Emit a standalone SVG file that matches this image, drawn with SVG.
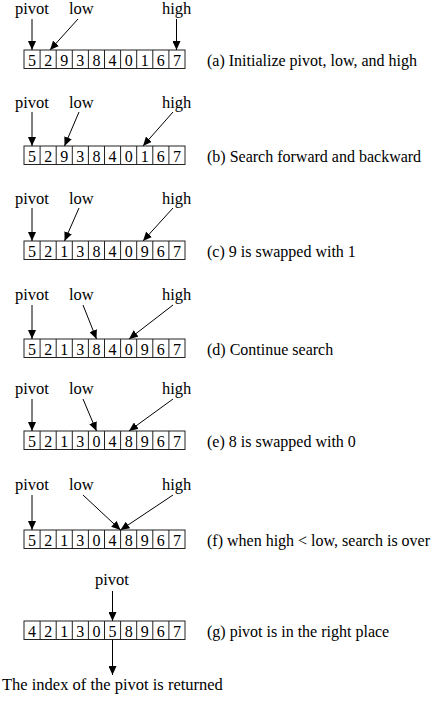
<svg xmlns="http://www.w3.org/2000/svg" width="435" height="701" viewBox="0 0 435 701">
<defs>
<marker id="ah" markerUnits="userSpaceOnUse" markerWidth="10" markerHeight="8" refX="9" refY="4" orient="auto">
<path d="M0,0 L9,4 L0,8 Z" fill="#000"/>
</marker>
<style>
text{font-family:"Liberation Serif","Times New Roman",serif;font-size:16px;fill:#000}
.l{font-size:16.5px}
.d{text-anchor:middle}
.box{fill:#fff;stroke:#222;stroke-width:1}
.c{stroke:#000;stroke-width:1;fill:none;marker-end:url(#ah)}
</style>
<g id="cells">
<path id="div" d="M40.1,0v18.5M56.2,0v18.5M72.3,0v18.5M88.4,0v18.5M104.5,0v18.5M120.6,0v18.5M136.7,0v18.5M152.8,0v18.5M168.9,0v18.5" stroke="#222" stroke-width="1"/>
</g>
</defs>

<g id="row-a">
<text class="l" x="15" y="14">pivot</text><text class="l" x="69" y="14">low</text><text class="l" x="162" y="14">high</text>
<g transform="translate(0,50)">
<rect class="box" x="24" y="0" width="161" height="18.5"/><use href="#div"/>
<text class="d" x="32.05" y="15.5">5</text><text class="d" x="48.15" y="15.5">2</text><text class="d" x="64.25" y="15.5">9</text><text class="d" x="80.35" y="15.5">3</text><text class="d" x="96.45" y="15.5">8</text><text class="d" x="112.55" y="15.5">4</text><text class="d" x="128.65" y="15.5">0</text><text class="d" x="144.75" y="15.5">1</text><text class="d" x="160.85" y="15.5">6</text><text class="d" x="176.95" y="15.5">7</text>
</g>
<text x="207" y="66">(a) Initialize pivot, low, and high</text>
</g>

<g id="row-b">
<text class="l" x="15" y="108">pivot</text><text class="l" x="69" y="108">low</text><text class="l" x="162" y="108">high</text>
<g transform="translate(0,146)">
<rect class="box" x="24" y="0" width="161" height="18.5"/><use href="#div"/>
<text class="d" x="32.05" y="15.5">5</text><text class="d" x="48.15" y="15.5">2</text><text class="d" x="64.25" y="15.5">9</text><text class="d" x="80.35" y="15.5">3</text><text class="d" x="96.45" y="15.5">8</text><text class="d" x="112.55" y="15.5">4</text><text class="d" x="128.65" y="15.5">0</text><text class="d" x="144.75" y="15.5">1</text><text class="d" x="160.85" y="15.5">6</text><text class="d" x="176.95" y="15.5">7</text>
</g>
<text x="207" y="162">(b) Search forward and backward</text>
</g>

<g id="row-c">
<text class="l" x="15" y="204">pivot</text><text class="l" x="69" y="204">low</text><text class="l" x="162" y="204">high</text>
<g transform="translate(0,241)">
<rect class="box" x="24" y="0" width="161" height="18.5"/><use href="#div"/>
<text class="d" x="32.05" y="15.5">5</text><text class="d" x="48.15" y="15.5">2</text><text class="d" x="64.25" y="15.5">1</text><text class="d" x="80.35" y="15.5">3</text><text class="d" x="96.45" y="15.5">8</text><text class="d" x="112.55" y="15.5">4</text><text class="d" x="128.65" y="15.5">0</text><text class="d" x="144.75" y="15.5">9</text><text class="d" x="160.85" y="15.5">6</text><text class="d" x="176.95" y="15.5">7</text>
</g>
<text x="207" y="257">(c) 9 is swapped with 1</text>
</g>

<g id="row-d">
<text class="l" x="15" y="300">pivot</text><text class="l" x="69" y="300">low</text><text class="l" x="162" y="300">high</text>
<g transform="translate(0,339)">
<rect class="box" x="24" y="0" width="161" height="18.5"/><use href="#div"/>
<text class="d" x="32.05" y="15.5">5</text><text class="d" x="48.15" y="15.5">2</text><text class="d" x="64.25" y="15.5">1</text><text class="d" x="80.35" y="15.5">3</text><text class="d" x="96.45" y="15.5">8</text><text class="d" x="112.55" y="15.5">4</text><text class="d" x="128.65" y="15.5">0</text><text class="d" x="144.75" y="15.5">9</text><text class="d" x="160.85" y="15.5">6</text><text class="d" x="176.95" y="15.5">7</text>
</g>
<text x="207" y="355">(d) Continue search</text>
</g>

<g id="row-e">
<text class="l" x="15" y="394">pivot</text><text class="l" x="69" y="394">low</text><text class="l" x="162" y="394">high</text>
<g transform="translate(0,431)">
<rect class="box" x="24" y="0" width="161" height="18.5"/><use href="#div"/>
<text class="d" x="32.05" y="15.5">5</text><text class="d" x="48.15" y="15.5">2</text><text class="d" x="64.25" y="15.5">1</text><text class="d" x="80.35" y="15.5">3</text><text class="d" x="96.45" y="15.5">0</text><text class="d" x="112.55" y="15.5">4</text><text class="d" x="128.65" y="15.5">8</text><text class="d" x="144.75" y="15.5">9</text><text class="d" x="160.85" y="15.5">6</text><text class="d" x="176.95" y="15.5">7</text>
</g>
<text x="207" y="447">(e) 8 is swapped with 0</text>
</g>

<g id="row-f">
<text class="l" x="15" y="490">pivot</text><text class="l" x="69" y="490">low</text><text class="l" x="162" y="490">high</text>
<g transform="translate(0,530)">
<rect class="box" x="24" y="0" width="161" height="18.5"/><use href="#div"/>
<text class="d" x="32.05" y="15.5">5</text><text class="d" x="48.15" y="15.5">2</text><text class="d" x="64.25" y="15.5">1</text><text class="d" x="80.35" y="15.5">3</text><text class="d" x="96.45" y="15.5">0</text><text class="d" x="112.55" y="15.5">4</text><text class="d" x="128.65" y="15.5">8</text><text class="d" x="144.75" y="15.5">9</text><text class="d" x="160.85" y="15.5">6</text><text class="d" x="176.95" y="15.5">7</text>
</g>
<text x="207" y="546">(f) when high &lt; low, search is over</text>
</g>

<g id="row-g">
<text class="l" x="95" y="585">pivot</text>
<g transform="translate(0,621)">
<rect class="box" x="24" y="0" width="161" height="18.5"/><use href="#div"/>
<text class="d" x="32.05" y="15.5">4</text><text class="d" x="48.15" y="15.5">2</text><text class="d" x="64.25" y="15.5">1</text><text class="d" x="80.35" y="15.5">3</text><text class="d" x="96.45" y="15.5">0</text><text class="d" x="112.55" y="15.5">5</text><text class="d" x="128.65" y="15.5">8</text><text class="d" x="144.75" y="15.5">9</text><text class="d" x="160.85" y="15.5">6</text><text class="d" x="176.95" y="15.5">7</text>
</g>
<text x="207" y="637">(g) pivot is in the right place</text>
<text class="l" x="2" y="690">The index of the pivot is returned</text>
</g>

<g id="connectors">
<line class="c" x1="32" y1="19" x2="32" y2="50"/>
<line class="c" x1="78" y1="19" x2="50" y2="50"/>
<line class="c" x1="176.5" y1="19" x2="176.5" y2="50"/>

<line class="c" x1="32" y1="112" x2="32" y2="146"/>
<line class="c" x1="79" y1="112" x2="64.5" y2="146"/>
<line class="c" x1="173" y1="112" x2="143" y2="146"/>

<line class="c" x1="32" y1="208" x2="32" y2="241"/>
<line class="c" x1="79" y1="208" x2="64.5" y2="241"/>
<line class="c" x1="173" y1="208" x2="143" y2="241"/>

<line class="c" x1="32" y1="305" x2="32" y2="339"/>
<line class="c" x1="83" y1="305" x2="96.5" y2="339"/>
<line class="c" x1="173" y1="305" x2="129" y2="339"/>

<line class="c" x1="32" y1="399" x2="32" y2="431"/>
<line class="c" x1="83" y1="399" x2="96.5" y2="431"/>
<line class="c" x1="173" y1="399" x2="129" y2="431"/>

<line class="c" x1="32" y1="495" x2="32" y2="530"/>
<line class="c" x1="83" y1="495" x2="120.5" y2="530"/>
<line class="c" x1="173" y1="495" x2="120.5" y2="530"/>

<line class="c" x1="112.5" y1="591" x2="112.5" y2="621"/>
<line class="c" x1="112.5" y1="639.5" x2="112.5" y2="675"/>
</g>
</svg>
